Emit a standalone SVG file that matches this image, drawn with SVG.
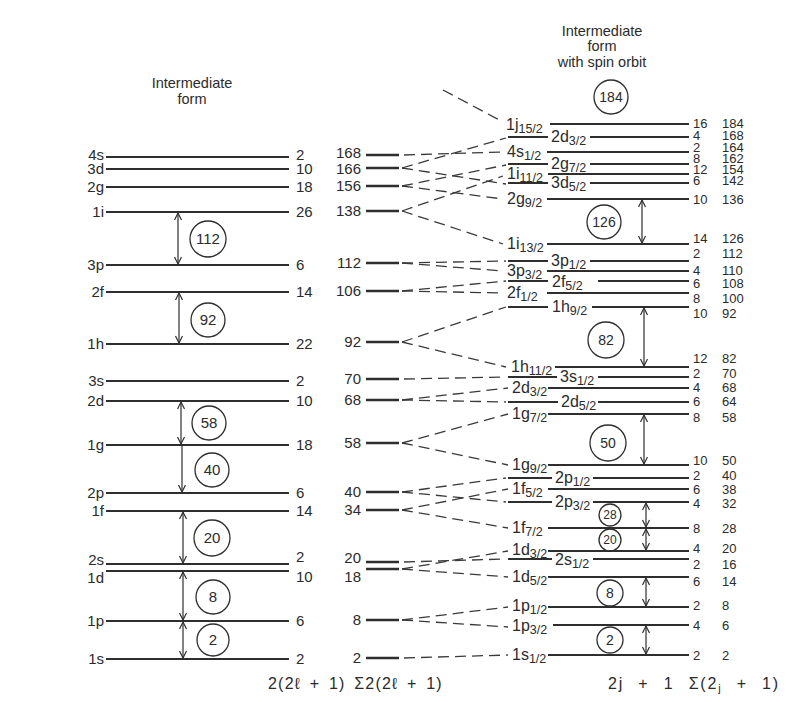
<svg xmlns="http://www.w3.org/2000/svg" width="793" height="702" viewBox="0 0 793 702">
<defs>
<style>
text{font-family:"Liberation Sans","DejaVu Sans",sans-serif;fill:#2b2b2b}
.t{font-size:15px}
.h{font-size:14.5px;text-anchor:middle}
.e{text-anchor:end}
.rl{font-size:16px}
.sb{font-size:12.5px}
.rn{font-size:13px}
.cn{font-size:15px;text-anchor:middle}
.cs{font-size:14px;text-anchor:middle}
.cx{font-size:12px;text-anchor:middle}
.cap{font-size:16px}
line,polyline{stroke:#2e2e2e;fill:none}
.lv{stroke-width:2}
.ms{stroke-width:2.6}
.d{stroke-width:1.3;stroke-dasharray:11 6;stroke:#3a3a3a}
.ar{stroke-width:1.2;marker-start:url(#ah);marker-end:url(#ah)}
.ar1{stroke-width:1.2;marker-end:url(#ah)}
circle{fill:none;stroke:#2e2e2e;stroke-width:1.3}
</style>
<marker id="ah" markerWidth="10" markerHeight="10" refX="8" refY="4" orient="auto-start-reverse" markerUnits="userSpaceOnUse">
<path d="M1,0.5 L8,4 L1,7.5" fill="none" stroke="#2e2e2e" stroke-width="1.2"/>
</marker>
</defs>
<rect width="793" height="702" fill="#ffffff"/>

<!-- headers -->
<g id="hdr-left"><text class="h" x="192" y="88">Intermediate</text><text class="h" x="192" y="104">form</text></g>
<g id="hdr-right"><text class="h" x="602" y="36">Intermediate</text><text class="h" x="602" y="51">form</text><text class="h" x="602" y="67">with spin orbit</text></g>

<!-- left column levels -->
<g id="L-4s"><line class="lv" x1="106" y1="157" x2="289" y2="157"/><text class="t e" x="104" y="160">4s</text><text class="t" x="296" y="160">2</text></g>
<g id="L-3d"><line class="lv" x1="106" y1="169" x2="289" y2="169"/><text class="t e" x="104" y="174">3d</text><text class="t" x="296" y="174">10</text></g>
<g id="L-2g"><line class="lv" x1="106" y1="187" x2="289" y2="187"/><text class="t e" x="104" y="192">2g</text><text class="t" x="296" y="192">18</text></g>
<g id="L-1i"><line class="lv" x1="106" y1="212" x2="289" y2="212"/><text class="t e" x="104" y="217">1i</text><text class="t" x="296" y="217">26</text></g>
<g id="L-3p"><line class="lv" x1="106" y1="265" x2="289" y2="265"/><text class="t e" x="104" y="270">3p</text><text class="t" x="296" y="270">6</text></g>
<g id="L-2f"><line class="lv" x1="106" y1="292" x2="289" y2="292"/><text class="t e" x="104" y="297">2f</text><text class="t" x="296" y="297">14</text></g>
<g id="L-1h"><line class="lv" x1="106" y1="344" x2="289" y2="344"/><text class="t e" x="104" y="349">1h</text><text class="t" x="296" y="349">22</text></g>
<g id="L-3s"><line class="lv" x1="106" y1="381" x2="289" y2="381"/><text class="t e" x="104" y="386">3s</text><text class="t" x="296" y="386">2</text></g>
<g id="L-2d"><line class="lv" x1="106" y1="401" x2="289" y2="401"/><text class="t e" x="104" y="406">2d</text><text class="t" x="296" y="406">10</text></g>
<g id="L-1g"><line class="lv" x1="106" y1="445" x2="289" y2="445"/><text class="t e" x="104" y="450">1g</text><text class="t" x="296" y="450">18</text></g>
<g id="L-2p"><line class="lv" x1="106" y1="493" x2="289" y2="493"/><text class="t e" x="104" y="498">2p</text><text class="t" x="296" y="498">6</text></g>
<g id="L-1f"><line class="lv" x1="106" y1="511" x2="289" y2="511"/><text class="t e" x="104" y="516">1f</text><text class="t" x="296" y="516">14</text></g>
<g id="L-2s"><line class="lv" x1="106" y1="564" x2="289" y2="564"/><text class="t e" x="104" y="565">2s</text><text class="t" x="296" y="562">2</text></g>
<g id="L-1d"><line class="lv" x1="106" y1="571" x2="289" y2="571"/><text class="t e" x="104" y="583">1d</text><text class="t" x="296" y="582">10</text></g>
<g id="L-1p"><line class="lv" x1="106" y1="621" x2="289" y2="621"/><text class="t e" x="104" y="626">1p</text><text class="t" x="296" y="626">6</text></g>
<g id="L-1s"><line class="lv" x1="106" y1="659" x2="289" y2="659"/><text class="t e" x="104" y="664">1s</text><text class="t" x="296" y="664">2</text></g>

<!-- left circles -->
<g id="LC-112"><circle cx="208" cy="239" r="18"/><text class="cn" x="208" y="244">112</text></g>
<g id="LC-92"><circle cx="208" cy="320" r="17"/><text class="cn" x="208" y="325">92</text></g>
<g id="LC-58"><circle cx="209" cy="423" r="17"/><text class="cn" x="209" y="428">58</text></g>
<g id="LC-40"><circle cx="212" cy="470" r="17"/><text class="cn" x="212" y="475">40</text></g>
<g id="LC-20"><circle cx="212" cy="538" r="18"/><text class="cn" x="212" y="543">20</text></g>
<g id="LC-8"><circle cx="213" cy="597" r="17"/><text class="cn" x="213" y="602">8</text></g>
<g id="LC-2"><circle cx="213" cy="640" r="16"/><text class="cn" x="213" y="645">2</text></g>

<!-- middle column -->
<g id="M-168"><line class="ms" x1="366" y1="155" x2="399" y2="155"/><text class="t e" x="361" y="158">168</text></g>
<g id="M-166"><line class="ms" x1="366" y1="168" x2="399" y2="168"/><text class="t e" x="361" y="174">166</text></g>
<g id="M-156"><line class="ms" x1="366" y1="186" x2="399" y2="186"/><text class="t e" x="361" y="191">156</text></g>
<g id="M-138"><line class="ms" x1="366" y1="211" x2="399" y2="211"/><text class="t e" x="361" y="216">138</text></g>
<g id="M-112"><line class="ms" x1="366" y1="263" x2="399" y2="263"/><text class="t e" x="361" y="268">112</text></g>
<g id="M-106"><line class="ms" x1="366" y1="291" x2="399" y2="291"/><text class="t e" x="361" y="296">106</text></g>
<g id="M-92"><line class="ms" x1="366" y1="342" x2="399" y2="342"/><text class="t e" x="361" y="347">92</text></g>
<g id="M-70"><line class="ms" x1="366" y1="379" x2="399" y2="379"/><text class="t e" x="361" y="384">70</text></g>
<g id="M-68"><line class="ms" x1="366" y1="400" x2="399" y2="400"/><text class="t e" x="361" y="405">68</text></g>
<g id="M-58"><line class="ms" x1="366" y1="443" x2="399" y2="443"/><text class="t e" x="361" y="448">58</text></g>
<g id="M-40"><line class="ms" x1="366" y1="492" x2="399" y2="492"/><text class="t e" x="361" y="497">40</text></g>
<g id="M-34"><line class="ms" x1="366" y1="510" x2="399" y2="510"/><text class="t e" x="361" y="515">34</text></g>
<g id="M-20"><line class="ms" x1="366" y1="562" x2="399" y2="562"/><text class="t e" x="361" y="563">20</text></g>
<g id="M-18"><line class="ms" x1="366" y1="569" x2="399" y2="569"/><text class="t e" x="361" y="582">18</text></g>
<g id="M-8"><line class="ms" x1="366" y1="620" x2="399" y2="620"/><text class="t e" x="361" y="625">8</text></g>
<g id="M-2"><line class="ms" x1="366" y1="658" x2="399" y2="658"/><text class="t e" x="361" y="663">2</text></g>

<!-- right column levels -->
<g id="R-1j15"><line class="lv" x1="550" y1="124" x2="689" y2="124"/><text class="rl" x="506" y="130">1j<tspan class="sb" dy="3">15/2</tspan></text><text class="rn" x="693" y="128">16</text><text class="rn" x="722" y="128">184</text></g>
<g id="R-2d3a"><line class="lv" x1="508" y1="137" x2="548" y2="137"/><line class="lv" x1="590" y1="137" x2="689" y2="137"/><text class="rl" x="551" y="142">2d<tspan class="sb" dy="3">3/2</tspan></text><text class="rn" x="693" y="140">4</text><text class="rn" x="722" y="140">168</text></g>
<g id="R-4s1"><line class="lv" x1="547" y1="152" x2="689" y2="152"/><text class="rl" x="507" y="157">4s<tspan class="sb" dy="3">1/2</tspan></text><text class="rn" x="693" y="152">2</text><text class="rn" x="722" y="152">164</text></g>
<g id="R-2g7"><line class="lv" x1="508" y1="164" x2="548" y2="164"/><line class="lv" x1="590" y1="164" x2="689" y2="164"/><text class="rl" x="551" y="169">2g<tspan class="sb" dy="3">7/2</tspan></text><text class="rn" x="693" y="163">8</text><text class="rn" x="722" y="163">162</text></g>
<g id="R-1i11"><line class="lv" x1="548" y1="174" x2="689" y2="174"/><text class="rl" x="507" y="179">1i<tspan class="sb" dy="3">11/2</tspan></text><text class="rn" x="693" y="174">12</text><text class="rn" x="722" y="174">154</text></g>
<g id="R-3d5"><line class="lv" x1="508" y1="183" x2="548" y2="183"/><line class="lv" x1="590" y1="183" x2="689" y2="183"/><text class="rl" x="551" y="188">3d<tspan class="sb" dy="3">5/2</tspan></text><text class="rn" x="693" y="185">6</text><text class="rn" x="722" y="185">142</text></g>
<g id="R-2g9"><line class="lv" x1="547" y1="199" x2="689" y2="199"/><text class="rl" x="507" y="204">2g<tspan class="sb" dy="3">9/2</tspan></text><text class="rn" x="693" y="204">10</text><text class="rn" x="722" y="204">136</text></g>
<g id="R-1i13"><line class="lv" x1="547" y1="244" x2="689" y2="244"/><text class="rl" x="507" y="249">1i<tspan class="sb" dy="3">13/2</tspan></text><text class="rn" x="693" y="243">14</text><text class="rn" x="722" y="243">126</text></g>
<g id="R-3p1"><line class="lv" x1="508" y1="261" x2="548" y2="261"/><line class="lv" x1="590" y1="261" x2="689" y2="261"/><text class="rl" x="551" y="266">3p<tspan class="sb" dy="3">1/2</tspan></text><text class="rn" x="693" y="258">2</text><text class="rn" x="722" y="258">112</text></g>
<g id="R-3p3"><line class="lv" x1="547" y1="271" x2="689" y2="271"/><text class="rl" x="507" y="276">3p<tspan class="sb" dy="3">3/2</tspan></text><text class="rn" x="693" y="275">4</text><text class="rn" x="722" y="275">110</text></g>
<g id="R-2f5"><line class="lv" x1="508" y1="281" x2="548" y2="281"/><line class="lv" x1="598" y1="281" x2="689" y2="281"/><text class="rl" x="552" y="287">2f<tspan class="sb" dy="3">5/2</tspan></text><text class="rn" x="693" y="288">6</text><text class="rn" x="722" y="288">108</text></g>
<g id="R-2f1"><line class="lv" x1="547" y1="293" x2="689" y2="293"/><text class="rl" x="507" y="298">2f<tspan class="sb" dy="3">1/2</tspan></text><text class="rn" x="693" y="303">8</text><text class="rn" x="722" y="303">100</text></g>
<g id="R-1h9"><line class="lv" x1="508" y1="307" x2="548" y2="307"/><line class="lv" x1="592" y1="307" x2="689" y2="307"/><text class="rl" x="552" y="312">1h<tspan class="sb" dy="3">9/2</tspan></text><text class="rn" x="693" y="318">10</text><text class="rn" x="722" y="318">92</text></g>
<g id="R-1h11"><line class="lv" x1="555" y1="367" x2="689" y2="367"/><text class="rl" x="511" y="372">1h<tspan class="sb" dy="3">11/2</tspan></text><text class="rn" x="693" y="363">12</text><text class="rn" x="722" y="363">82</text></g>
<g id="R-3s1"><line class="lv" x1="508" y1="377" x2="557" y2="377"/><line class="lv" x1="598" y1="377" x2="689" y2="377"/><text class="rl" x="560" y="382">3s<tspan class="sb" dy="3">1/2</tspan></text><text class="rn" x="693" y="378">2</text><text class="rn" x="722" y="378">70</text></g>
<g id="R-2d3b"><line class="lv" x1="548" y1="388" x2="689" y2="388"/><text class="rl" x="512" y="393">2d<tspan class="sb" dy="3">3/2</tspan></text><text class="rn" x="693" y="392">4</text><text class="rn" x="722" y="392">68</text></g>
<g id="R-2d5"><line class="lv" x1="508" y1="402" x2="558" y2="402"/><line class="lv" x1="598" y1="402" x2="689" y2="402"/><text class="rl" x="561" y="407">2d<tspan class="sb" dy="3">5/2</tspan></text><text class="rn" x="693" y="406">6</text><text class="rn" x="722" y="406">64</text></g>
<g id="R-1g7"><line class="lv" x1="548" y1="414" x2="689" y2="414"/><text class="rl" x="512" y="419">1g<tspan class="sb" dy="3">7/2</tspan></text><text class="rn" x="693" y="422">8</text><text class="rn" x="722" y="422">58</text></g>
<g id="R-1g9"><line class="lv" x1="548" y1="465" x2="689" y2="465"/><text class="rl" x="512" y="470">1g<tspan class="sb" dy="3">9/2</tspan></text><text class="rn" x="693" y="465">10</text><text class="rn" x="722" y="465">50</text></g>
<g id="R-2p1"><line class="lv" x1="508" y1="478" x2="552" y2="478"/><line class="lv" x1="593" y1="478" x2="689" y2="478"/><text class="rl" x="555" y="483">2p<tspan class="sb" dy="3">1/2</tspan></text><text class="rn" x="693" y="480">2</text><text class="rn" x="722" y="480">40</text></g>
<g id="R-1f5"><line class="lv" x1="548" y1="489" x2="689" y2="489"/><text class="rl" x="512" y="494">1f<tspan class="sb" dy="3">5/2</tspan></text><text class="rn" x="693" y="494">6</text><text class="rn" x="722" y="494">38</text></g>
<g id="R-2p3"><line class="lv" x1="508" y1="502" x2="552" y2="502"/><line class="lv" x1="593" y1="502" x2="689" y2="502"/><text class="rl" x="555" y="507">2p<tspan class="sb" dy="3">3/2</tspan></text><text class="rn" x="693" y="508">4</text><text class="rn" x="722" y="508">32</text></g>
<g id="R-1f7"><line class="lv" x1="548" y1="528" x2="689" y2="528"/><text class="rl" x="512" y="533">1f<tspan class="sb" dy="3">7/2</tspan></text><text class="rn" x="693" y="533">8</text><text class="rn" x="722" y="533">28</text></g>
<g id="R-1d3"><line class="lv" x1="548" y1="551" x2="689" y2="551"/><text class="rl" x="512" y="555">1d<tspan class="sb" dy="3">3/2</tspan></text><text class="rn" x="693" y="553">4</text><text class="rn" x="722" y="553">20</text></g>
<g id="R-2s1"><line class="lv" x1="508" y1="559" x2="552" y2="559"/><line class="lv" x1="593" y1="559" x2="689" y2="559"/><text class="rl" x="555" y="565">2s<tspan class="sb" dy="3">1/2</tspan></text><text class="rn" x="693" y="569">2</text><text class="rn" x="722" y="569">16</text></g>
<g id="R-1d5"><line class="lv" x1="548" y1="577" x2="689" y2="577"/><text class="rl" x="512" y="582">1d<tspan class="sb" dy="3">5/2</tspan></text><text class="rn" x="693" y="586">6</text><text class="rn" x="722" y="586">14</text></g>
<g id="R-1p1"><line class="lv" x1="548" y1="607" x2="689" y2="607"/><text class="rl" x="512" y="611">1p<tspan class="sb" dy="3">1/2</tspan></text><text class="rn" x="693" y="610">2</text><text class="rn" x="722" y="610">8</text></g>
<g id="R-1p3"><line class="lv" x1="553" y1="625" x2="689" y2="625"/><text class="rl" x="512" y="631">1p<tspan class="sb" dy="3">3/2</tspan></text><text class="rn" x="693" y="630">4</text><text class="rn" x="722" y="630">6</text></g>
<g id="R-1s1"><line class="lv" x1="548" y1="655" x2="689" y2="655"/><text class="rl" x="512" y="660">1s<tspan class="sb" dy="3">1/2</tspan></text><text class="rn" x="693" y="660">2</text><text class="rn" x="722" y="660">2</text></g>

<!-- right circles -->
<g id="RC-184"><circle cx="611" cy="97" r="17"/><text class="cs" x="611" y="102">184</text></g>
<g id="RC-126"><circle cx="604" cy="222" r="17"/><text class="cs" x="604" y="227">126</text></g>
<g id="RC-82"><circle cx="606" cy="340" r="18"/><text class="cs" x="606" y="345">82</text></g>
<g id="RC-50"><circle cx="608" cy="443" r="18"/><text class="cs" x="608" y="448">50</text></g>
<g id="RC-28"><circle cx="610" cy="515" r="11"/><text class="cx" x="610" y="519">28</text></g>
<g id="RC-20"><circle cx="610" cy="540" r="11"/><text class="cx" x="610" y="544">20</text></g>
<g id="RC-8"><circle cx="610" cy="593" r="13"/><text class="cs" x="610" y="598">8</text></g>
<g id="RC-2"><circle cx="610" cy="640" r="13"/><text class="cs" x="610" y="645">2</text></g>

<!-- connectors -->
<g id="connectors">
<line class="d" x1="443" y1="90" x2="503" y2="122"/>
<line class="d" x1="404" y1="155" x2="503" y2="152"/>
<line class="d" x1="402" y1="168" x2="506" y2="138"/>
<line class="d" x1="402" y1="168" x2="506" y2="184"/>
<line class="d" x1="402" y1="186" x2="506" y2="165"/>
<line class="d" x1="402" y1="186" x2="503" y2="199"/>
<line class="d" x1="402" y1="211" x2="503" y2="176"/>
<line class="d" x1="402" y1="211" x2="503" y2="244"/>
<line class="d" x1="402" y1="263" x2="506" y2="261"/>
<line class="d" x1="402" y1="263" x2="503" y2="271"/>
<line class="d" x1="402" y1="291" x2="506" y2="281"/>
<line class="d" x1="402" y1="291" x2="503" y2="293"/>
<line class="d" x1="402" y1="342" x2="506" y2="307"/>
<line class="d" x1="402" y1="342" x2="506" y2="367"/>
<line class="d" x1="404" y1="379" x2="506" y2="377"/>
<line class="d" x1="402" y1="400" x2="508" y2="388"/>
<line class="d" x1="402" y1="400" x2="506" y2="402"/>
<line class="d" x1="402" y1="443" x2="508" y2="414"/>
<line class="d" x1="402" y1="443" x2="508" y2="465"/>
<line class="d" x1="402" y1="492" x2="506" y2="478"/>
<line class="d" x1="402" y1="492" x2="506" y2="502"/>
<line class="d" x1="402" y1="510" x2="508" y2="489"/>
<line class="d" x1="402" y1="510" x2="508" y2="528"/>
<line class="d" x1="404" y1="562" x2="506" y2="559"/>
<line class="d" x1="402" y1="569" x2="508" y2="551"/>
<line class="d" x1="402" y1="569" x2="508" y2="577"/>
<line class="d" x1="402" y1="620" x2="508" y2="607"/>
<line class="d" x1="402" y1="620" x2="508" y2="627"/>
<line class="d" x1="404" y1="658" x2="508" y2="655"/>

<line class="ar" x1="178" y1="213" x2="178" y2="264"/>
<line class="ar" x1="179" y1="293" x2="179" y2="343"/>
<line class="ar" x1="181" y1="402" x2="181" y2="444"/>
<line class="ar1" x1="182" y1="446" x2="182" y2="492"/>
<line class="ar" x1="183" y1="512" x2="183" y2="563"/>
<line class="ar" x1="183" y1="572" x2="183" y2="620"/>
<line class="ar" x1="183" y1="622" x2="183" y2="658"/>

<line class="ar" x1="642" y1="200" x2="642" y2="243"/>
<line class="ar" x1="644" y1="308" x2="644" y2="366"/>
<line class="ar" x1="644" y1="415" x2="644" y2="464"/>
<line class="ar" x1="646" y1="503" x2="646" y2="527"/>
<line class="ar" x1="646" y1="529" x2="646" y2="550"/>
<line class="ar" x1="646" y1="578" x2="646" y2="606"/>
<line class="ar" x1="646" y1="626" x2="646" y2="654"/>
</g>

<!-- bottom captions -->
<g id="cap-left"><text class="cap" x="268" y="689" letter-spacing="1.2" word-spacing="3">2(2ℓ + 1) Σ2(2ℓ + 1)</text></g>
<g id="cap-right"><text class="cap" x="608" y="689" letter-spacing="1.8" word-spacing="8">2j + 1 Σ(2<tspan font-size="11" dy="3">j</tspan><tspan dy="-3"> + 1)</tspan></text></g>
</svg>
